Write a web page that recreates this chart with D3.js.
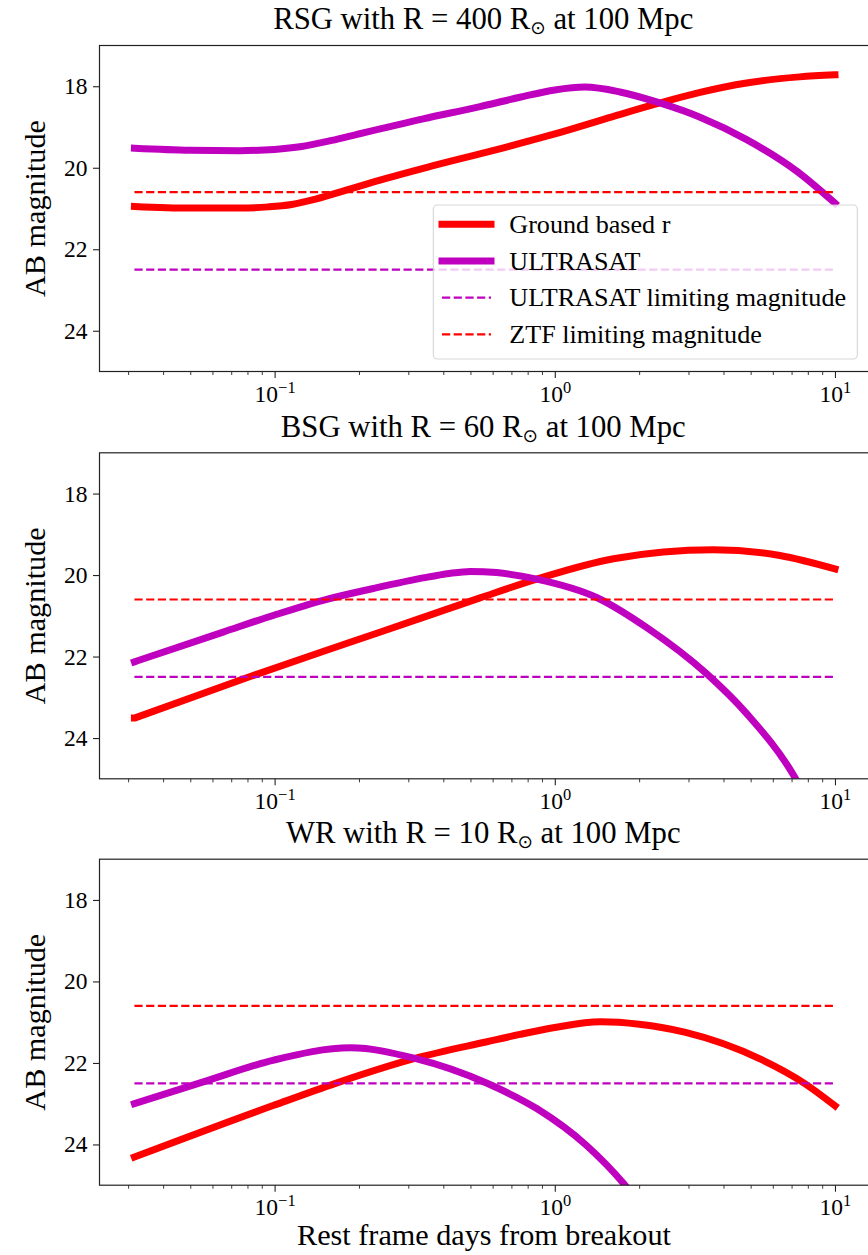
<!DOCTYPE html>
<html><head><meta charset="utf-8">
<script src="https://cdn.jsdelivr.net/npm/d3@7"></script>
<style>
body{margin:0;background:#fff;}
svg{display:block;}
</style></head><body>
<svg id="chart" width="868" height="1255"></svg>
<script>
// ---------------- data ----------------
const titleNames = ["RSG", "BSG", "WR"];
const titleRadii = ["400", "60", "10"];
const titleDistance = "100 Mpc";

const rsgGroundT   = [0.0316, 0.05, 0.075, 0.095, 0.115, 0.14, 0.18, 0.22, 0.35, 0.6, 1.0, 1.6, 2.37, 3.3, 4.84, 7.48, 10];
const rsgGroundMag = [20.95, 20.99, 20.99, 20.96, 20.9, 20.77, 20.55, 20.37, 19.99, 19.58, 19.17, 18.75, 18.41, 18.15, 17.92, 17.77, 17.72];
const rsgUvT   = [0.0316, 0.05, 0.075, 0.1, 0.125, 0.16, 0.197, 0.339, 0.541, 0.751, 1.0, 1.28, 1.709, 2.37, 3.3, 4.84, 7.32, 10];
const rsgUvMag = [19.52, 19.57, 19.58, 19.55, 19.48, 19.33, 19.18, 18.8, 18.5, 18.27, 18.09, 18.02, 18.14, 18.41, 18.76, 19.31, 20.09, 20.87];

const bsgGroundT   = [0.0316, 0.0818, 0.186, 0.339, 0.541, 0.862, 1.62, 3.68, 6.36, 10];
const bsgGroundMag = [23.51, 22.49, 21.65, 21.04, 20.56, 20.1, 19.6, 19.38, 19.52, 19.85];
const bsgUvT   = [0.0316, 0.0655, 0.1, 0.149, 0.225, 0.339, 0.42, 0.5, 0.62, 0.862, 1.41, 2.13, 3.48, 4.84, 7.1, 10];
const bsgUvMag = [22.13, 21.4, 20.98, 20.62, 20.33, 20.07, 19.96, 19.91, 19.94, 20.1, 20.55, 21.29, 22.42, 23.4, 24.9, 26.95];

const wrGroundT   = [0.0316, 0.0993, 0.165, 0.317, 0.573, 0.75, 1.0, 1.46, 2.0, 2.93, 5.4, 7.78, 10];
const wrGroundMag = [24.31, 23.04, 22.5, 21.89, 21.48, 21.3, 21.13, 20.99, 21.05, 21.25, 21.9, 22.5, 23.05];
const wrUvT   = [0.0316, 0.056, 0.0993, 0.1866, 0.317, 0.573, 0.862, 1.295, 1.76, 2.5];
const wrUvMag = [23.0, 22.46, 21.93, 21.63, 21.89, 22.5, 23.12, 24.02, 24.96, 26.4];

const limitT = [0.0316, 10];
const ztfLimit = 20.6;
const ultrasatLimit = 22.5;

const yTicks = [18, 20, 22, 24];
const xMajorTicks = [0.1, 1, 10];
const xMajorExponents = ["−1", "0", "1"];
const xMinorTicks = [0.03,0.04,0.05,0.06,0.07,0.08,0.09,0.2,0.3,0.4,0.5,0.6,0.7,0.8,0.9,2,3,4,5,6,7,8,9];

const legendLabels = ["Ground based r", "ULTRASAT", "ULTRASAT limiting magnitude", "ZTF limiting magnitude"];
const yLabel = "AB magnitude";
const xLabel = "Rest frame days from breakout";

// ---------------- font: prefer an installed serif face ----------------
function pickFont(cands) {
  const c = document.createElement("canvas").getContext("2d");
  const s = "ULTRASAT limiting magnitude 0123456789";
  c.font = "30px monospace"; const wm = c.measureText(s).width;
  c.font = "30px sans-serif"; const ws = c.measureText(s).width;
  for (const f of cands) {
    c.font = `30px "${f}", monospace`; const a = c.measureText(s).width;
    c.font = `30px "${f}", sans-serif`; const b = c.measureText(s).width;
    if (a !== wm && b !== ws && Math.abs(a - b) < 0.01) return `"${f}", serif`;
  }
  return "serif";
}
const fontFamily = pickFont(["Liberation Serif", "DejaVu Serif", "Tinos", "Times New Roman", "Noto Serif", "Nimbus Roman", "FreeSerif"]);

// ---------------- layout / style ----------------
const groundColor = "#ff0000", uvColor = "#bf00bf", axisColor = "#222";
const plotLeft = 99.5, plotRight = 870;
const panelTops = [45.5, 452.8, 859.2];
const panelH = 326;

const svg = d3.select("#chart").style("font-family", fontFamily);

function fitSize(str, target, base) {
  const t = svg.append("text").attr("font-size", base).style("font-family", fontFamily).text(str);
  const w = t.node().getComputedTextLength();
  t.remove();
  return w > 0 ? base * target / w : base;
}
const titleSize = fitSize("RSG with R = 400 R at 100 Mpc", 405, 30);
const labelSize = fitSize(xLabel, 374, 30);
const legendSize = fitSize("ULTRASAT limiting magnitude", 337, 26);
const tickSize = fitSize("10", 23.5, 24);

const groundSeries = [[rsgGroundT, rsgGroundMag], [bsgGroundT, bsgGroundMag], [wrGroundT, wrGroundMag]];
const uvSeries = [[rsgUvT, rsgUvMag], [bsgUvT, bsgUvMag], [wrUvT, wrUvMag]];

const x = d3.scaleLog().domain([Math.pow(10, -1.625), Math.pow(10, 1.125)]).range([plotLeft, plotRight]);
const defs = svg.append("defs");

panelTops.forEach((top, i) => {
  const y = d3.scaleLinear().domain([17, 25]).range([top, top + panelH]);
  const g = svg.append("g");
  const clipId = "clip" + i;
  defs.append("clipPath").attr("id", clipId)
    .append("rect").attr("x", plotLeft).attr("y", top).attr("width", plotRight - plotLeft).attr("height", panelH);

  const line = d3.line().x(d => x(d[0])).y(d => y(d[1])).curve(d3.curveMonotoneX);
  const plot = g.append("g").attr("clip-path", `url(#${clipId})`);

  plot.append("path").datum(d3.zip(groundSeries[i][0], groundSeries[i][1]))
    .attr("d", line).attr("fill", "none").attr("stroke", groundColor)
    .attr("stroke-width", 7).attr("stroke-linecap", "square").attr("stroke-linejoin", "round");
  plot.append("path").datum(d3.zip(uvSeries[i][0], uvSeries[i][1]))
    .attr("d", line).attr("fill", "none").attr("stroke", uvColor)
    .attr("stroke-width", 7).attr("stroke-linecap", "square").attr("stroke-linejoin", "round");

  const flat = d3.line().x(d => x(d[0])).y(d => y(d[1]));
  plot.append("path").datum(limitT.map(t => [t, ultrasatLimit]))
    .attr("d", flat).attr("fill", "none").attr("stroke", uvColor)
    .attr("stroke-width", 2.2).attr("stroke-dasharray", "8.2,3.5");
  plot.append("path").datum(limitT.map(t => [t, ztfLimit]))
    .attr("d", flat).attr("fill", "none").attr("stroke", groundColor)
    .attr("stroke-width", 2.2).attr("stroke-dasharray", "8.2,3.5");

  // frame
  g.append("rect").attr("x", plotLeft).attr("y", top).attr("width", plotRight - plotLeft).attr("height", panelH)
    .attr("fill", "none").attr("stroke", axisColor).attr("stroke-width", 1.2);

  // y axis
  const ya = g.append("g").attr("transform", `translate(${plotLeft},0)`)
    .call(d3.axisLeft(y).tickValues(yTicks).tickSize(6.5).tickPadding(5.5).tickFormat(d3.format("d")));
  ya.select(".domain").remove();
  ya.attr("font-family", null);
  ya.selectAll(".tick line").attr("stroke", axisColor).attr("stroke-width", 1.1);
  ya.selectAll(".tick text").attr("font-size", tickSize).attr("fill", "#000");

  // x axis minor
  const xmin = g.append("g").attr("transform", `translate(0,${top + panelH})`)
    .call(d3.axisBottom(x).tickValues(xMinorTicks).tickSize(3.5).tickFormat(""));
  xmin.select(".domain").remove();
  xmin.selectAll(".tick line").attr("stroke", axisColor).attr("stroke-width", 0.9);

  // x axis major
  const xa = g.append("g").attr("transform", `translate(0,${top + panelH})`)
    .call(d3.axisBottom(x).tickValues(xMajorTicks).tickSize(6.5).tickFormat(""));
  xa.select(".domain").remove();
  xa.attr("font-family", null);
  xa.selectAll(".tick line").attr("stroke", axisColor).attr("stroke-width", 1.1);
  xa.selectAll(".tick text").each(function(d, k) {
    const t = d3.select(this).attr("y", 30).attr("dy", 0)
      .attr("font-size", tickSize).attr("fill", "#000").attr("text-anchor", "middle");
    t.text(null);
    t.append("tspan").text("10");
    t.append("tspan").text(xMajorExponents[k]).attr("font-size", tickSize * 0.7).attr("dy", -9);
  });

  // title
  const title = g.append("text").attr("x", (plotLeft + plotRight) / 2 - 1.5).attr("y", top - 16.2)
    .attr("text-anchor", "middle").attr("font-size", titleSize).attr("fill", "#000");
  title.append("tspan").text(`${titleNames[i]} with R = ${titleRadii[i]} R`);
  title.append("tspan").text("⊙").attr("font-size", titleSize * 0.6).attr("dy", 5)
    .style("font-family", "'DejaVu Sans'");
  title.append("tspan").text(` at ${titleDistance}`).attr("dy", -5);

  // y label
  g.append("text").attr("transform", `translate(45,${top + panelH / 2}) rotate(-90)`)
    .attr("text-anchor", "middle").attr("font-size", labelSize).attr("fill", "#000").text(yLabel);
});

// x label
svg.append("text").attr("x", 484).attr("y", 1245).attr("text-anchor", "middle")
  .attr("font-size", labelSize).attr("fill", "#000").text(xLabel);

// legend (panel 1)
const leg = svg.append("g");
leg.append("rect").attr("x", 433.3).attr("y", 205).attr("width", 424).attr("height", 154)
  .attr("rx", 4).attr("ry", 4).attr("fill", "#fff").attr("fill-opacity", 0.8)
  .attr("stroke", "#cccccc").attr("stroke-opacity", 0.8).attr("stroke-width", 1.1);
const legendStyles = [
  {color: groundColor, width: 7, dash: null},
  {color: uvColor, width: 7, dash: null},
  {color: uvColor, width: 2.2, dash: "8.2,3.5"},
  {color: groundColor, width: 2.2, dash: "8.2,3.5"}
];
legendLabels.forEach((lab, k) => {
  const cy = 224.3 + k * 36.67;
  const st = legendStyles[k];
  leg.append("line").attr("x1", 442).attr("x2", 491).attr("y1", cy).attr("y2", cy)
    .attr("stroke", st.color).attr("stroke-width", st.width)
    .attr("stroke-linecap", st.dash ? "butt" : "square")
    .attr("stroke-dasharray", st.dash);
  leg.append("text").attr("x", 509.3).attr("y", cy + 8.7).attr("font-size", legendSize).attr("fill", "#000").text(lab);
});
</script>
</body></html>
